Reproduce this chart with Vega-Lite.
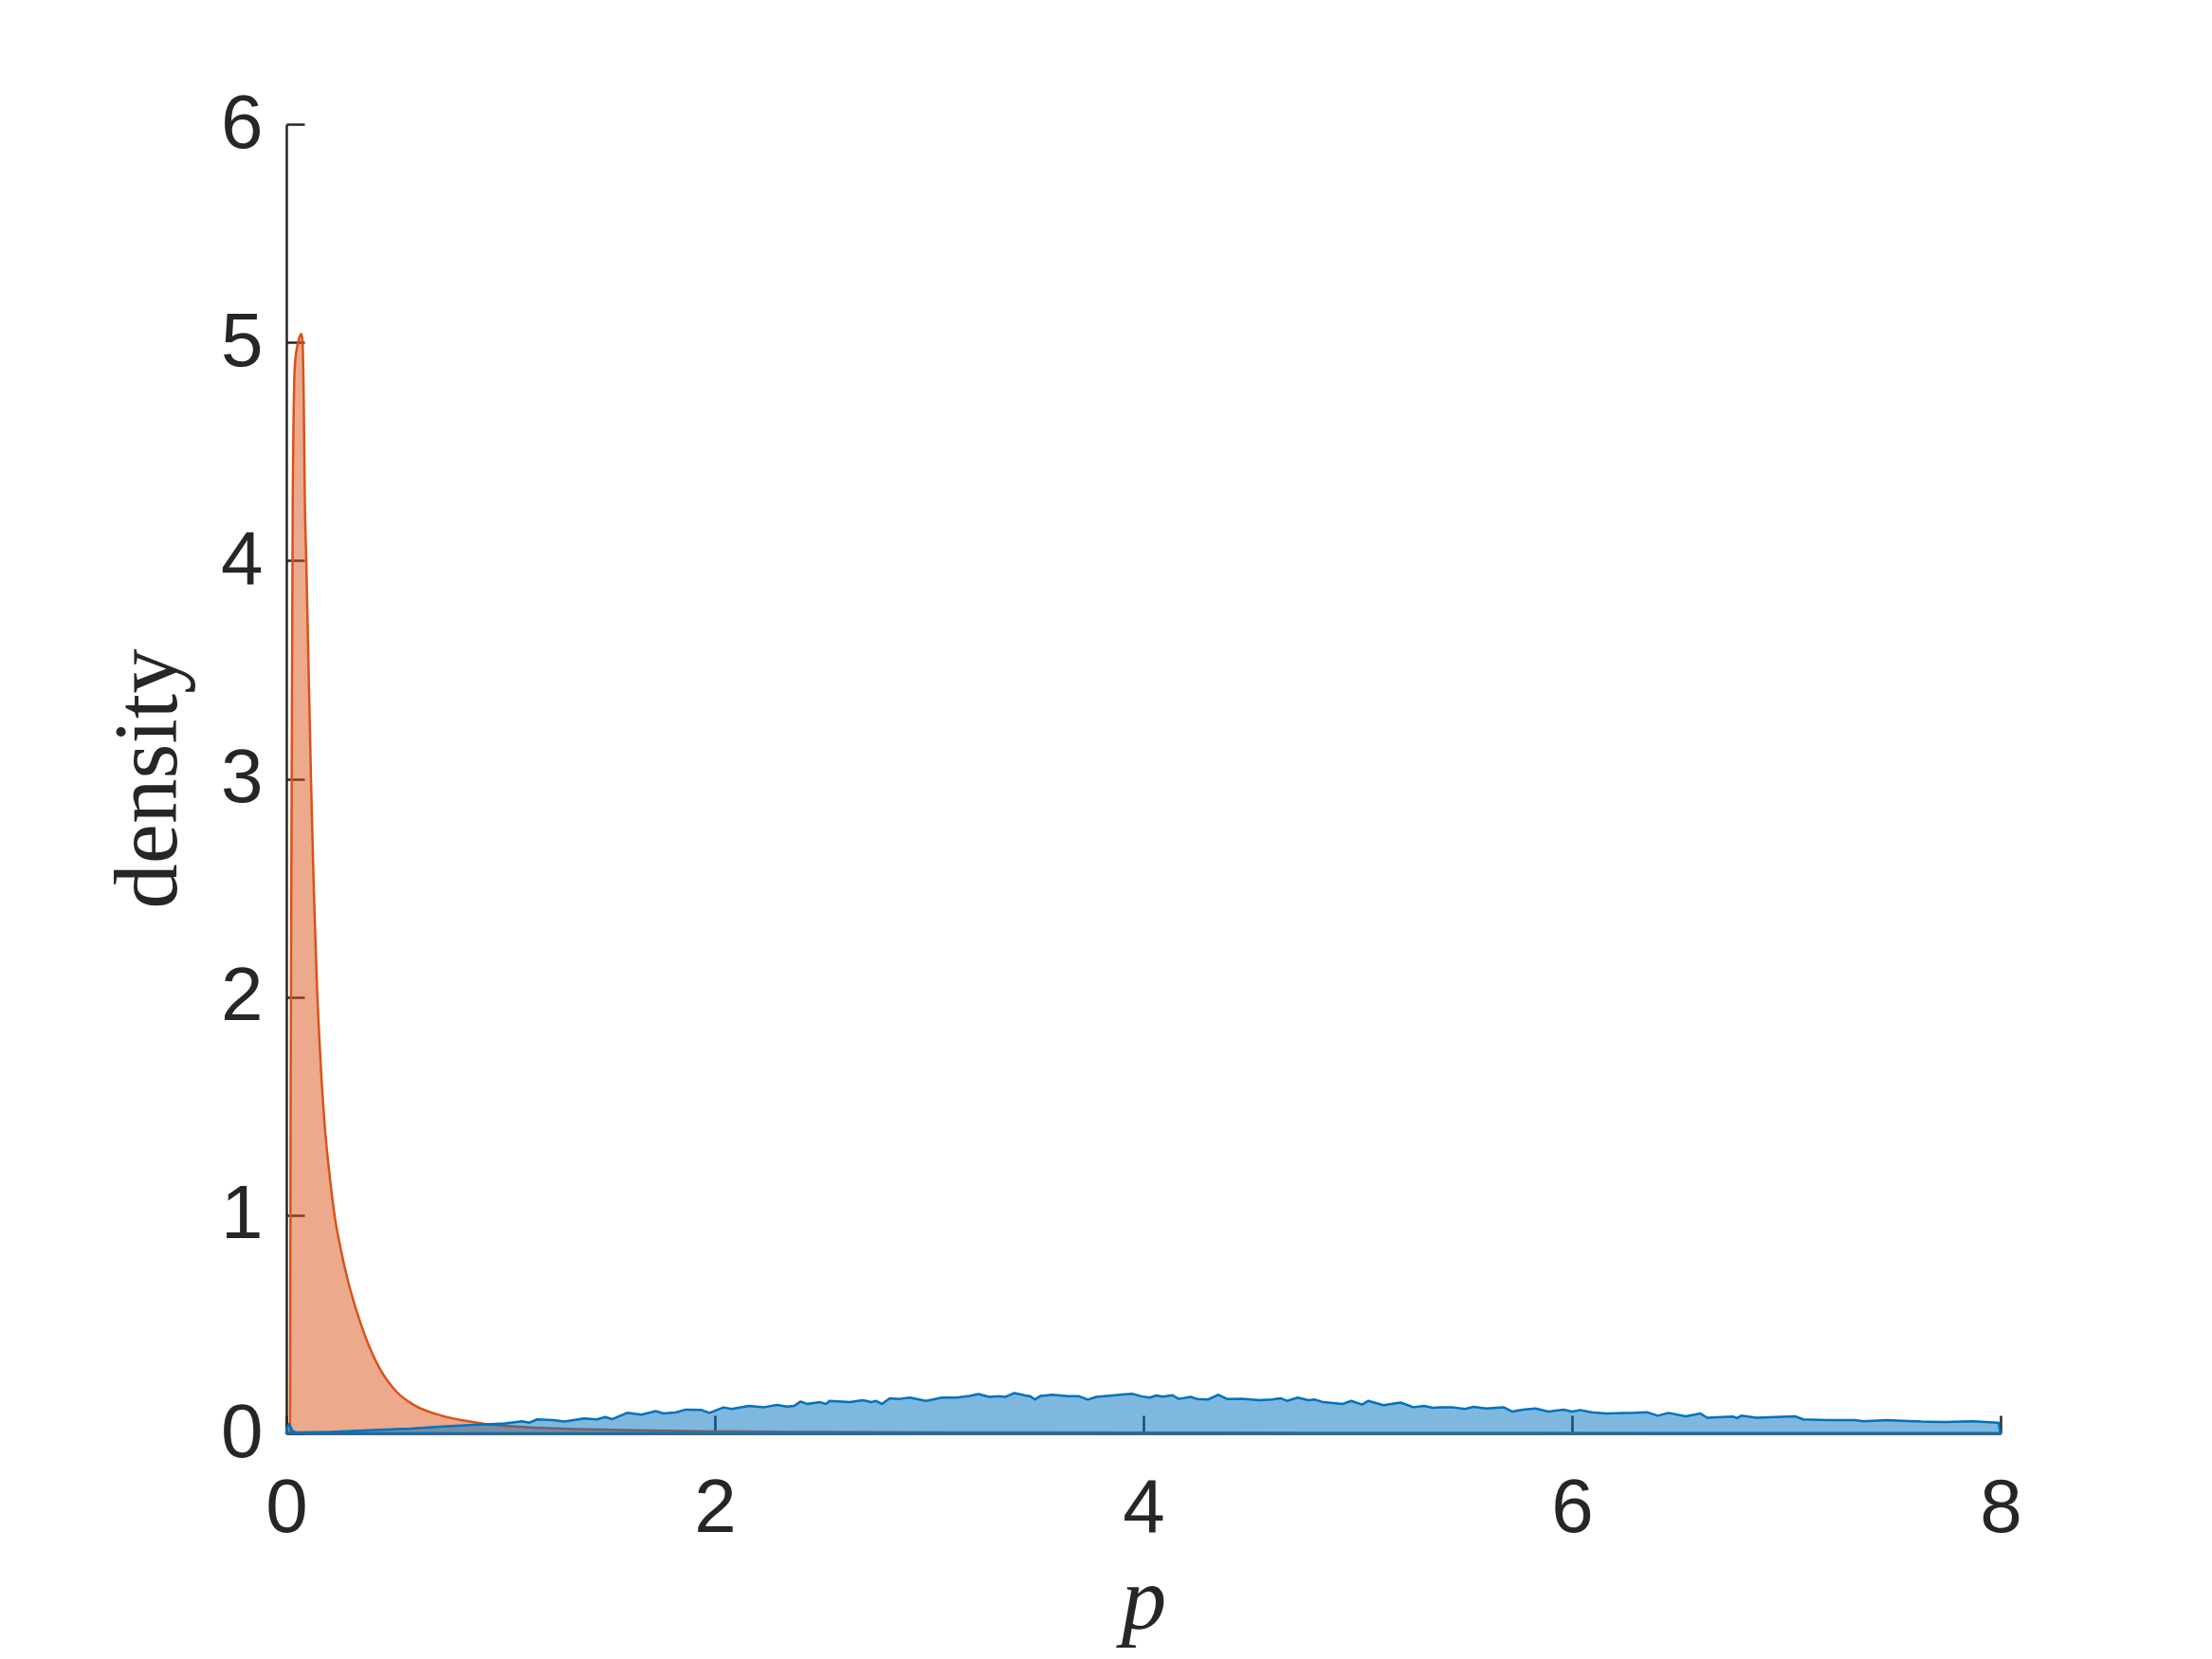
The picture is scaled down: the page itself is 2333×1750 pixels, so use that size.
{
  "$schema": "https://vega.github.io/schema/vega-lite/v6.json",
  "width": 1808,
  "height": 1381,
  "autosize": {"type": "none"},
  "padding": {"left": 302, "top": 131, "right": 223, "bottom": 238},
  "background": "white",
  "config": {
    "view": {"stroke": null},
    "axis": {
      "grid": false,
      "domainColor": "#262626",
      "domainWidth": 2.5,
      "tickColor": "#262626",
      "tickWidth": 2.5,
      "tickSize": -19,
      "labelFont": "Liberation Sans",
      "labelFontSize": 80,
      "labelColor": "#262626",
      "labelFlush": false,
      "labelOverlap": false,
      "titleColor": "#262626",
      "titleFont": "Liberation Serif",
      "titleFontSize": 95,
      "titleFontWeight": "normal"
    }
  },
  "datasets": {
    "orange": [
      {"p": 0, "d": 0}, {"p": 0.017, "d": 0}, {"p": 0.02, "d": 1.5}, {"p": 0.025, "d": 3.0},
      {"p": 0.03, "d": 4.3}, {"p": 0.04, "d": 4.9}, {"p": 0.055, "d": 5.0}, {"p": 0.07, "d": 5.04},
      {"p": 0.076, "d": 5.0}, {"p": 0.081, "d": 4.75}, {"p": 0.086, "d": 4.3}, {"p": 0.093, "d": 4.0},
      {"p": 0.104, "d": 3.5}, {"p": 0.115, "d": 3.0}, {"p": 0.128, "d": 2.5}, {"p": 0.143, "d": 2.05},
      {"p": 0.16, "d": 1.7}, {"p": 0.18, "d": 1.4}, {"p": 0.2, "d": 1.2}, {"p": 0.225, "d": 1.0},
      {"p": 0.255, "d": 0.84}, {"p": 0.29, "d": 0.69}, {"p": 0.325, "d": 0.57}, {"p": 0.37, "d": 0.44},
      {"p": 0.434, "d": 0.3}, {"p": 0.515, "d": 0.19}, {"p": 0.596, "d": 0.13}, {"p": 0.73, "d": 0.08},
      {"p": 0.876, "d": 0.051}, {"p": 0.965, "d": 0.039}, {"p": 1.05, "d": 0.033}, {"p": 1.2, "d": 0.025},
      {"p": 1.42, "d": 0.018}, {"p": 1.7, "d": 0.013}, {"p": 1.93, "d": 0.01}, {"p": 2.55, "d": 0.006},
      {"p": 3.5, "d": 0.004}, {"p": 5, "d": 0.002}, {"p": 8, "d": 0.001}
    ],
    "blue": [
      {"p": 0, "d": 0}, {"p": 0.005, "d": 0.03}, {"p": 0.013, "d": 0.043}, {"p": 0.03, "d": 0.01},
      {"p": 0.05, "d": 0.004}, {"p": 0.21, "d": 0.007}, {"p": 0.36, "d": 0.013}, {"p": 0.43, "d": 0.016},
      {"p": 0.58, "d": 0.022}, {"p": 0.73, "d": 0.032}, {"p": 0.876, "d": 0.039}, {"p": 1.02, "d": 0.046},
      {"p": 1.1, "d": 0.055}, {"p": 1.134, "d": 0.049}, {"p": 1.17, "d": 0.064}, {"p": 1.245, "d": 0.061},
      {"p": 1.297, "d": 0.054}, {"p": 1.39, "d": 0.068}, {"p": 1.45, "d": 0.064}, {"p": 1.488, "d": 0.075},
      {"p": 1.52, "d": 0.065}, {"p": 1.59, "d": 0.094}, {"p": 1.657, "d": 0.086}, {"p": 1.724, "d": 0.102},
      {"p": 1.76, "d": 0.091}, {"p": 1.82, "d": 0.097}, {"p": 1.864, "d": 0.109}, {"p": 1.938, "d": 0.107},
      {"p": 1.975, "d": 0.094}, {"p": 2.04, "d": 0.119}, {"p": 2.078, "d": 0.112}, {"p": 2.159, "d": 0.126},
      {"p": 2.23, "d": 0.12}, {"p": 2.29, "d": 0.13}, {"p": 2.336, "d": 0.123}, {"p": 2.37, "d": 0.126},
      {"p": 2.4, "d": 0.146}, {"p": 2.43, "d": 0.135}, {"p": 2.49, "d": 0.143}, {"p": 2.52, "d": 0.135},
      {"p": 2.535, "d": 0.149}, {"p": 2.63, "d": 0.143}, {"p": 2.69, "d": 0.152}, {"p": 2.73, "d": 0.143},
      {"p": 2.75, "d": 0.149}, {"p": 2.779, "d": 0.135}, {"p": 2.816, "d": 0.161}, {"p": 2.86, "d": 0.158},
      {"p": 2.91, "d": 0.164}, {"p": 2.985, "d": 0.149}, {"p": 3.06, "d": 0.164}, {"p": 3.13, "d": 0.164},
      {"p": 3.19, "d": 0.172}, {"p": 3.23, "d": 0.18}, {"p": 3.28, "d": 0.167}, {"p": 3.33, "d": 0.17},
      {"p": 3.354, "d": 0.167}, {"p": 3.398, "d": 0.185}, {"p": 3.443, "d": 0.175}, {"p": 3.47, "d": 0.171},
      {"p": 3.494, "d": 0.155}, {"p": 3.52, "d": 0.172}, {"p": 3.575, "d": 0.177}, {"p": 3.65, "d": 0.171},
      {"p": 3.7, "d": 0.17}, {"p": 3.74, "d": 0.155}, {"p": 3.78, "d": 0.167}, {"p": 3.855, "d": 0.174},
      {"p": 3.9, "d": 0.178}, {"p": 3.95, "d": 0.181}, {"p": 3.99, "d": 0.17}, {"p": 4.03, "d": 0.164},
      {"p": 4.06, "d": 0.174}, {"p": 4.09, "d": 0.168}, {"p": 4.135, "d": 0.175}, {"p": 4.165, "d": 0.158},
      {"p": 4.22, "d": 0.167}, {"p": 4.25, "d": 0.158}, {"p": 4.3, "d": 0.155}, {"p": 4.35, "d": 0.177},
      {"p": 4.39, "d": 0.158}, {"p": 4.46, "d": 0.159}, {"p": 4.54, "d": 0.152}, {"p": 4.6, "d": 0.155},
      {"p": 4.64, "d": 0.161}, {"p": 4.67, "d": 0.149}, {"p": 4.72, "d": 0.164}, {"p": 4.77, "d": 0.152},
      {"p": 4.8, "d": 0.155}, {"p": 4.84, "d": 0.143}, {"p": 4.93, "d": 0.135}, {"p": 4.97, "d": 0.149},
      {"p": 5.02, "d": 0.132}, {"p": 5.05, "d": 0.149}, {"p": 5.12, "d": 0.129}, {"p": 5.2, "d": 0.141},
      {"p": 5.26, "d": 0.12}, {"p": 5.31, "d": 0.126}, {"p": 5.35, "d": 0.117}, {"p": 5.39, "d": 0.12},
      {"p": 5.44, "d": 0.12}, {"p": 5.5, "d": 0.112}, {"p": 5.54, "d": 0.122}, {"p": 5.6, "d": 0.114},
      {"p": 5.68, "d": 0.12}, {"p": 5.72, "d": 0.1}, {"p": 5.77, "d": 0.109}, {"p": 5.83, "d": 0.114},
      {"p": 5.89, "d": 0.1}, {"p": 5.96, "d": 0.109}, {"p": 6.0, "d": 0.1}, {"p": 6.04, "d": 0.107},
      {"p": 6.09, "d": 0.097}, {"p": 6.16, "d": 0.091}, {"p": 6.29, "d": 0.094}, {"p": 6.35, "d": 0.097},
      {"p": 6.4, "d": 0.081}, {"p": 6.45, "d": 0.094}, {"p": 6.53, "d": 0.078}, {"p": 6.6, "d": 0.091},
      {"p": 6.63, "d": 0.072}, {"p": 6.75, "d": 0.077}, {"p": 6.77, "d": 0.07}, {"p": 6.79, "d": 0.081},
      {"p": 6.86, "d": 0.072}, {"p": 7.04, "d": 0.078}, {"p": 7.08, "d": 0.064}, {"p": 7.19, "d": 0.061},
      {"p": 7.32, "d": 0.061}, {"p": 7.36, "d": 0.055}, {"p": 7.47, "d": 0.061}, {"p": 7.54, "d": 0.058},
      {"p": 7.63, "d": 0.054}, {"p": 7.74, "d": 0.052}, {"p": 7.87, "d": 0.055}, {"p": 7.99, "d": 0.049},
      {"p": 8.0, "d": 0}
    ]
  },
  "encoding": {
    "x": {
      "field": "p", "type": "quantitative",
      "scale": {"domain": [0, 8], "nice": false, "zero": true},
      "axis": {
        "title": "p",
        "titleFontStyle": "italic",
        "values": [0, 2, 4, 6, 8],
        "format": "d",
        "labelPadding": 59,
        "titleX": 904,
        "titleY": 205,
        "titleAlign": "center",
        "titleBaseline": "alphabetic"
      }
    },
    "y": {
      "field": "d", "type": "quantitative", "stack": null,
      "scale": {"domain": [0, 6], "nice": false, "zero": true},
      "axis": {
        "title": "density",
        "values": [0, 1, 2, 3, 4, 5, 6],
        "format": "d",
        "labelPadding": 44,
        "titleAngle": -90,
        "titleX": -117,
        "titleY": 690,
        "titleAlign": "center",
        "titleBaseline": "alphabetic"
      }
    }
  },
  "layer": [
    {
      "data": {"name": "orange"},
      "mark": {"type": "area", "interpolate": "monotone", "fill": "#D95319", "fillOpacity": 0.5, "stroke": "#D95319", "strokeWidth": 2.5, "strokeJoin": "round"}
    },
    {
      "data": {"name": "blue"},
      "mark": {"type": "area", "fill": "#0072BD", "fillOpacity": 0.5, "stroke": "#0072BD", "strokeWidth": 2.5, "strokeJoin": "round"}
    }
  ]
}
